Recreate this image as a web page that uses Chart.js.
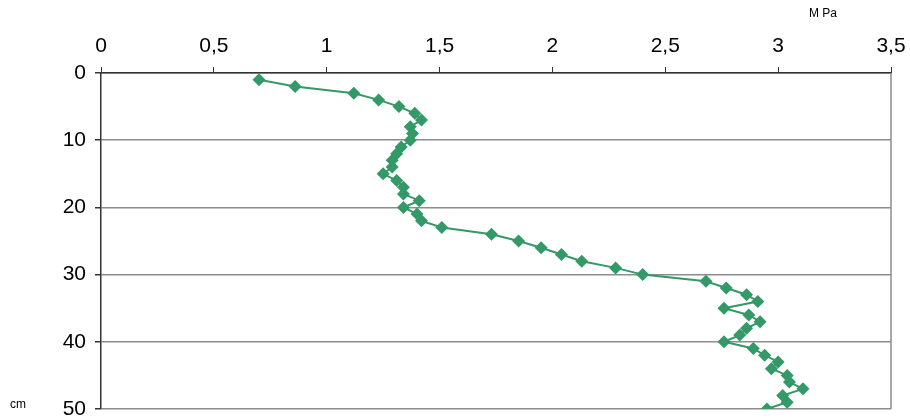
<!DOCTYPE html>
<html>
<head>
<meta charset="utf-8">
<script src="https://cdn.jsdelivr.net/npm/chart.js@4.4.0/dist/chart.umd.min.js"></script>
<style>
  html, body { margin: 0; padding: 0; background: #fff; }
  #wrap { width: 910px; height: 420px; }
</style>
</head>
<body>
<div id="wrap"><canvas id="profile"></canvas></div>
<script>
// depth in cm
const depths = [1, 2, 3, 4, 5, 6, 7, 8, 9, 10,
    11, 12, 13, 14, 15, 16, 17, 18, 19, 20,
    21, 22, 23, 24, 25, 26, 27, 28, 29, 30,
    31, 32, 33, 34, 35, 36, 37, 38, 39, 40,
    41, 42, 43, 44, 45, 46, 47, 48, 49, 50];
// penetration resistance in MPa
const resistance = [0.70, 0.86, 1.12, 1.23, 1.32, 1.39, 1.42, 1.37, 1.38, 1.37,
    1.33, 1.31, 1.29, 1.29, 1.25, 1.31, 1.34, 1.34, 1.41, 1.34,
    1.40, 1.42, 1.51, 1.73, 1.85, 1.95, 2.04, 2.13, 2.28, 2.40,
    2.68, 2.77, 2.86, 2.91, 2.76, 2.87, 2.92, 2.86, 2.83, 2.76,
    2.89, 2.94, 3.00, 2.97, 3.04, 3.05, 3.11, 3.02, 3.04, 2.95];
const xUnit = 'M Pa';
const yUnit = 'cm';

const points = resistance.map((v, i) => ({ x: v, y: depths[i] }));

// right frame line + unit labels
const extras = {
    id: 'extras',
    afterDraw(chart) {
        const { ctx, chartArea } = chart;
        ctx.save();
        ctx.strokeStyle = '#8c8c8c';
        ctx.lineWidth = 1.5;
        ctx.beginPath();
        ctx.moveTo(chartArea.right, chartArea.top);
        ctx.lineTo(chartArea.right, chartArea.bottom);
        ctx.stroke();
        ctx.fillStyle = '#000';
        ctx.font = '12px "Liberation Sans", Arial, sans-serif';
        ctx.textBaseline = 'middle';
        ctx.textAlign = 'left';
        ctx.fillText(xUnit, 809, 14);
        ctx.fillText(yUnit, 10, 405);
        ctx.restore();
    }
};

const ctx = document.getElementById('profile').getContext('2d');
new Chart(ctx, {
    type: 'scatter',
    data: {
        datasets: [{
            data: points,
            showLine: true,
            borderColor: '#339966',
            backgroundColor: '#339966',
            borderWidth: 2,
            pointStyle: 'rectRot',
            pointRadius: 6.5,
            pointHoverRadius: 6.5,
            pointBorderWidth: 0
        }]
    },
    options: {
        responsive: true,
        maintainAspectRatio: false,
        animation: false,
        layout: { padding: { left: 0, top: 0, right: 19, bottom: 11 } },
        plugins: {
            legend: { display: false },
            tooltip: { enabled: false }
        },
        scales: {
            x: {
                type: 'linear',
                position: 'top',
                min: 0,
                max: 3.5,
                afterFit: (scale) => {
                    scale.height = 73;
                    scale.paddingLeft = 0;
                    scale.paddingRight = 0;
                },
                ticks: {
                    stepSize: 0.5,
                    color: '#000',
                    padding: 8,
                    font: { family: '"Liberation Sans", Arial, sans-serif', size: 21 },
                    callback: (v) => String(v).replace('.', ',')
                },
                grid: {
                    drawOnChartArea: false,
                    drawTicks: true,
                    tickLength: 6,
                    tickColor: '#333',
                    tickWidth: 1
                },
                border: { color: '#333', width: 1.5 }
            },
            y: {
                type: 'linear',
                reverse: true,
                min: 0,
                max: 50,
                afterFit: (scale) => {
                    scale.width = 101;
                    scale.paddingTop = 0;
                    scale.paddingBottom = 0;
                },
                ticks: {
                    stepSize: 10,
                    color: '#000',
                    padding: 9,
                    font: { family: '"Liberation Sans", Arial, sans-serif', size: 21 }
                },
                grid: {
                    color: '#8c8c8c',
                    lineWidth: 1.5,
                    tickLength: 6,
                    tickColor: '#333'
                },
                border: { color: '#333', width: 1.5 }
            }
        }
    },
    plugins: [extras]
});
</script>
</body>
</html>
